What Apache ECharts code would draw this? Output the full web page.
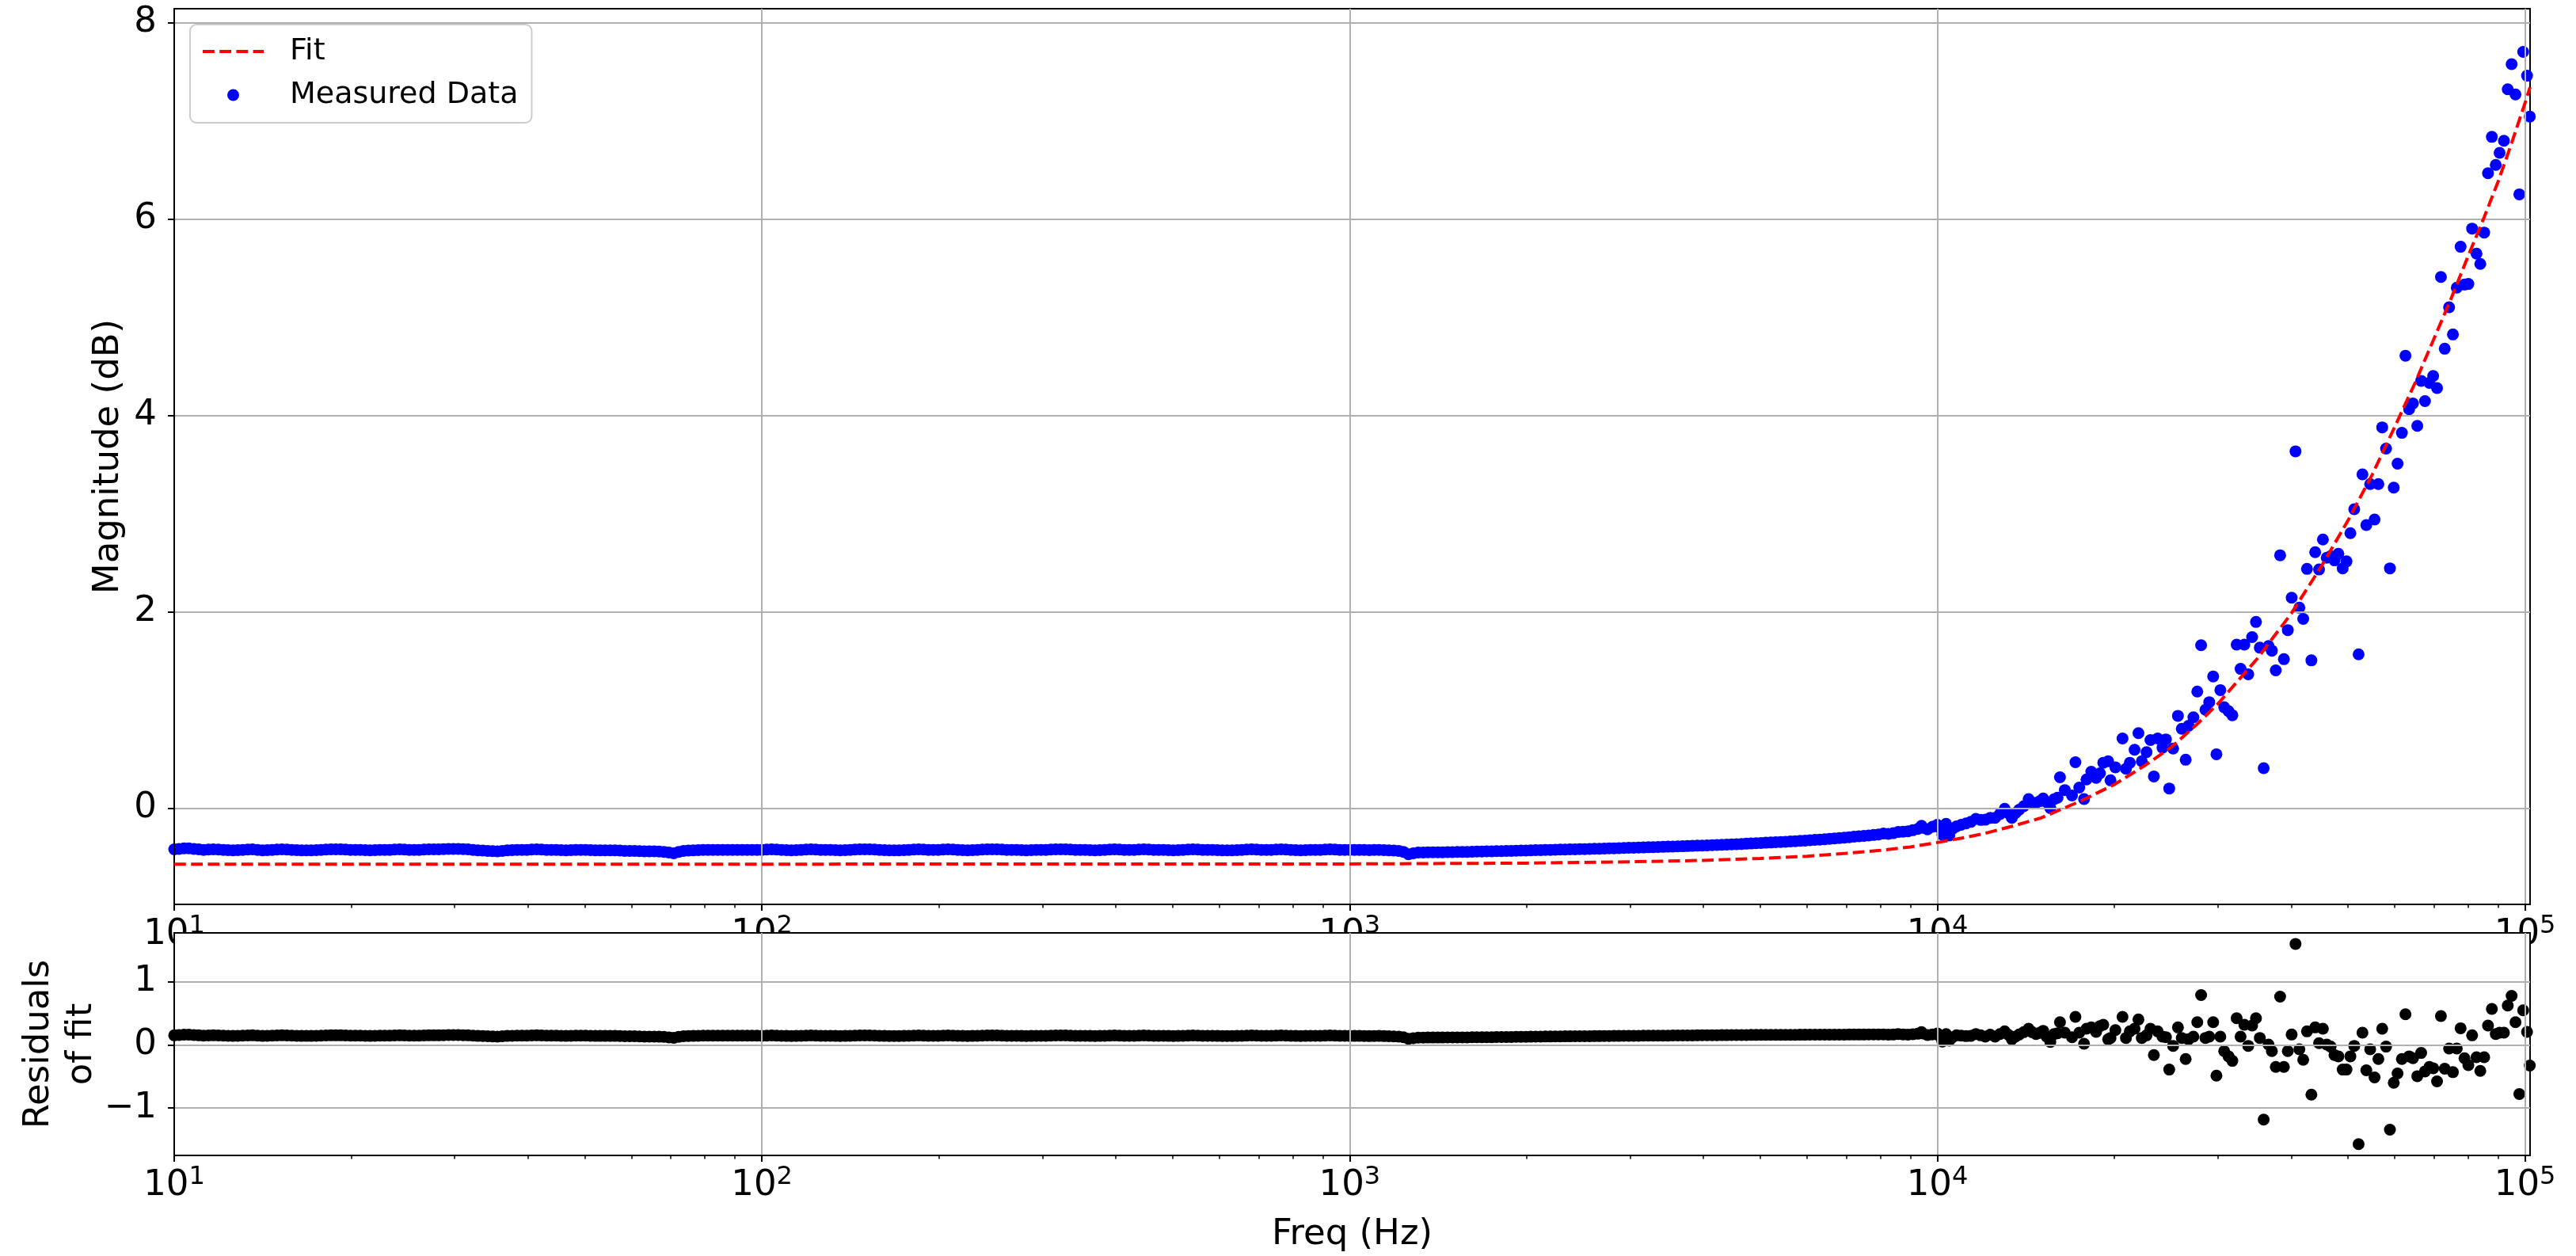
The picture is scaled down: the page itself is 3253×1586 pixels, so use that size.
<!DOCTYPE html>
<html><head><meta charset="utf-8">
<script src="https://cdn.jsdelivr.net/npm/echarts@6/dist/echarts.min.js"></script>
<style>html,body{margin:0;padding:0;background:#fff}#c{width:3253px;height:1586px}</style>
</head><body><div id="c"></div>
<script>
// ---------- data ----------
const freq = [
10,10.39,10.8,11.22,11.66,12.12,12.59,13.08,13.59,14.13,14.68,15.25,15.85,16.47,17.11,17.78,18.48,19.2,19.95,20.73,21.54,22.39,23.26,24.18,25.12,26.1,27.12,28.18,29.29,30.43,31.62,32.86,34.15,35.48,36.87,38.31,39.81,41.37,42.99,44.67,46.42,48.23,50.12,52.08,54.12,56.23,58.43,60.72,63.1,65.56,68.13,70.79,73.56,76.44,79.43,82.54,85.77,89.13,92.61,96.24,
100,103.9,108,112.2,116.6,121.2,125.9,130.8,135.9,141.3,146.8,152.5,158.5,164.7,171.1,177.8,184.8,192,199.5,207.3,215.4,223.9,232.6,241.8,251.2,261,271.2,281.8,292.9,304.3,316.2,328.6,341.5,354.8,368.7,383.1,398.1,413.7,429.9,446.7,464.2,482.3,501.2,520.8,541.2,562.3,584.3,607.2,631,655.6,681.3,707.9,735.6,764.4,794.3,825.4,857.7,891.3,926.1,962.4,
1000,1039,1080,1122,1166,1212,1259,1308,1359,1413,1468,1525,1585,1647,1711,1778,1848,1920,1995,2073,2154,2239,2326,2418,2512,2610,2712,2818,2929,3043,3162,3286,3415,3548,3687,3831,3981,4137,4299,4467,4642,4823,5012,5208,5412,5623,5843,6072,6310,6556,6813,7079,7356,7644,7943,8254,8577,8913,9261,9400,9624,10000,10100,10200,10350,
10480,10780,11190,11630,12070,12540,13020,13390,13780,14300,
14720,15140,15570,16020,16170,16480,16950,17180,17440,17770,
17940,18280,18630,18910,19160,19530,19710,20090,20660,20940,
21260,21660,21990,22280,22700,23050,23360,23710,24160,24490,
24810,25190,25670,26060,26460,26760,27270,27690,28110,28590,
29020,29470,29850,30310,30770,31300,31770,32310,32810,33300,
33810,34330,34850,35380,35920,36610,37090,37660,38310,38880,
39480,40080,40690,41310,41940,42560,43300,43950,44620,45300,
45990,46690,47400,48130,48950,49690,50450,51220,52100,52890,
53700,54520,55460,56300,57150,58020,58900,59790,60690,61730,
62600,63500,64470,65570,66570,67580,68740,69780,70840,71930,
73010,74270,75390,76540,77700,78890,80090,81280,82690,83930,
85220,86500,87820,89170,90520,92070,93460,94890,96340,97790,
99290,100800,101900
];
const magnitude = [
-0.42,-0.41,-0.415,-0.425,-0.42,-0.425,-0.43,-0.425,-0.42,-0.43,-0.425,-0.42,-0.425,-0.43,-0.43,-0.425,-0.42,-0.42,-0.425,-0.425,-0.43,-0.425,-0.425,-0.42,-0.425,-0.425,-0.42,-0.42,-0.415,-0.415,-0.42,-0.43,-0.435,-0.44,-0.43,-0.425,-0.425,-0.42,-0.425,-0.425,-0.43,-0.425,-0.425,-0.43,-0.43,-0.43,-0.435,-0.435,-0.44,-0.44,-0.445,-0.46,-0.435,-0.43,-0.425,-0.425,-0.425,-0.425,-0.425,-0.425,
-0.425,-0.42,-0.425,-0.43,-0.425,-0.42,-0.425,-0.425,-0.43,-0.425,-0.42,-0.42,-0.425,-0.43,-0.43,-0.425,-0.42,-0.425,-0.425,-0.42,-0.425,-0.43,-0.425,-0.42,-0.42,-0.425,-0.425,-0.43,-0.425,-0.425,-0.42,-0.42,-0.425,-0.425,-0.43,-0.425,-0.42,-0.425,-0.425,-0.42,-0.425,-0.425,-0.43,-0.425,-0.42,-0.425,-0.425,-0.43,-0.43,-0.425,-0.42,-0.425,-0.425,-0.42,-0.425,-0.43,-0.425,-0.425,-0.42,-0.425,
-0.425,-0.425,-0.428,-0.425,-0.43,-0.435,-0.47,-0.452,-0.45,-0.45,-0.448,-0.446,-0.445,-0.442,-0.44,-0.438,-0.436,-0.434,-0.431,-0.428,-0.426,-0.424,-0.421,-0.419,-0.417,-0.414,-0.412,-0.409,-0.406,-0.403,-0.4,-0.397,-0.394,-0.391,-0.388,-0.384,-0.381,-0.377,-0.373,-0.369,-0.365,-0.36,-0.355,-0.35,-0.345,-0.339,-0.333,-0.326,-0.32,-0.312,-0.305,-0.296,-0.287,-0.278,-0.268,-0.262,-0.243,-0.236,-0.212,-0.18,-0.215,-0.17,-0.2,-0.27,-0.16,
-0.278,-0.186,-0.155,-0.109,-0.118,-0.099,-0.007,-0.099,-0.016,0.092,
0.055,0.098,0.0,0.107,0.314,0.184,0.129,0.468,0.209,0.092,
0.292,0.370,0.308,0.354,0.462,0.478,0.283,0.416,0.709,0.401,
0.462,0.595,0.764,0.478,0.570,0.693,0.323,0.709,0.616,0.700,
0.200,0.607,0.940,0.808,0.493,0.838,0.925,1.187,1.659,1.002,
1.079,1.341,0.549,1.202,1.027,0.987,0.946,1.665,1.418,1.665,
1.363,1.742,1.896,1.634,0.407,1.650,1.603,1.403,2.575,1.517,
1.813,2.143,3.633,2.041,1.927,2.436,1.505,2.606,2.430,2.735,
2.550,2.566,2.523,2.590,2.442,2.513,2.800,3.044,1.566,3.398,
2.883,3.300,2.939,3.300,3.877,3.661,2.442,3.263,3.507,3.821,
4.607,4.062,4.120,3.892,4.351,4.145,4.330,4.401,4.277,5.408,
4.678,5.100,4.823,5.300,5.716,5.331,5.337,5.901,5.646,5.541,
5.861,6.465,6.835,6.549,6.672,6.795,7.319,7.575,7.267,6.250,
7.700,7.458,7.042
];
const residual = [
0.15,0.16,0.155,0.145,0.15,0.145,0.14,0.145,0.15,0.14,0.145,0.15,0.145,0.14,0.14,0.145,0.15,0.15,0.145,0.145,0.14,0.145,0.145,0.15,0.145,0.145,0.15,0.15,0.155,0.155,0.15,0.14,0.135,0.13,0.14,0.145,0.145,0.15,0.145,0.145,0.14,0.145,0.145,0.14,0.14,0.14,0.135,0.135,0.13,0.13,0.125,0.11,0.135,0.14,0.145,0.145,0.145,0.145,0.145,0.145,
0.143,0.148,0.143,0.138,0.143,0.148,0.143,0.143,0.138,0.143,0.148,0.148,0.143,0.138,0.138,0.143,0.148,0.143,0.143,0.148,0.143,0.138,0.143,0.148,0.148,0.143,0.143,0.138,0.143,0.143,0.148,0.148,0.143,0.143,0.138,0.143,0.148,0.143,0.143,0.148,0.143,0.143,0.138,0.143,0.148,0.143,0.143,0.138,0.138,0.143,0.148,0.143,0.143,0.148,0.143,0.138,0.143,0.143,0.148,0.143,
0.14,0.14,0.137,0.14,0.135,0.13,0.095,0.113,0.115,0.115,0.116,0.117,0.118,0.12,0.121,0.122,0.123,0.125,0.127,0.13,0.131,0.132,0.134,0.135,0.136,0.137,0.138,0.14,0.141,0.142,0.144,0.145,0.146,0.147,0.148,0.149,0.151,0.152,0.153,0.154,0.155,0.156,0.157,0.157,0.158,0.158,0.159,0.16,0.16,0.161,0.161,0.162,0.162,0.163,0.164,0.16,0.17,0.16,0.175,0.2,0.155,0.18,0.14,0.05,0.17,
0.067,0.150,0.137,0.171,0.129,0.129,0.212,0.087,0.162,0.254,
0.171,0.221,0.046,0.183,0.358,0.192,0.121,0.442,0.192,0.017,
0.254,0.275,0.204,0.296,0.317,0.087,0.108,0.233,0.442,0.108,
0.212,0.254,0.400,0.108,0.150,0.254,-0.163,0.212,0.129,0.121,
-0.392,-0.017,0.275,0.108,-0.225,0.087,0.129,0.358,0.787,0.108,
0.129,0.358,-0.488,0.129,-0.100,-0.183,-0.254,0.421,0.129,0.317,
-0.017,0.304,0.421,0.108,-1.184,0.004,-0.100,-0.350,0.762,-0.350,
-0.100,0.162,1.596,-0.071,-0.238,0.212,-0.788,0.275,0.025,0.254,
0.004,-0.029,-0.163,-0.183,-0.392,-0.392,-0.183,-0.017,-1.571,0.192,
-0.404,-0.071,-0.517,-0.225,0.254,-0.029,-1.342,-0.600,-0.454,-0.225,
0.483,-0.183,-0.213,-0.496,-0.129,-0.421,-0.350,-0.371,-0.579,0.454,
-0.379,-0.058,-0.433,-0.058,0.262,-0.213,-0.321,0.150,-0.196,-0.413,
-0.196,0.304,0.567,0.171,0.192,0.192,0.621,0.775,0.358,-0.779,
0.546,0.204,-0.329
];
// extra measured points lying between the ones above where the measurements form a dense band
const extraFreq = [
10.19,10.59,11.01,11.44,11.89,12.35,12.83,13.34,13.86,14.4,14.96,15.55,16.16,16.79,17.45,18.13,18.84,19.57,20.34,21.14,21.96,22.82,23.71,24.64,25.61,26.61,27.65,28.73,29.85,31.02,32.24,33.5,34.81,36.17,37.58,39.06,40.58,42.17,43.82,45.53,47.32,49.17,51.09,53.09,55.17,57.32,59.57,61.9,64.32,66.83,69.45,72.17,74.99,77.92,80.97,84.14,87.43,90.85,94.41,98.1,
101.9,105.9,110.1,114.4,118.9,123.5,128.3,133.4,138.6,144,149.6,155.5,161.6,167.9,174.5,181.3,188.4,195.7,203.4,211.4,219.6,228.2,237.1,246.4,256.1,266.1,276.5,287.3,298.5,310.2,322.4,335,348.1,361.7,375.8,390.6,405.8,421.7,438.2,455.3,473.2,491.7,510.9,530.9,551.7,573.2,595.7,619,643.2,668.3,694.5,721.7,749.9,779.2,809.7,841.4,874.3,908.5,944.1,981,
1019,1059,1101,1144,1189,1235,1283,1334,1386,1440,1496,1555,1616,1679,1745,1813,1884,1957,2034,2114,2196,2282,2371,2464,2561,2661,2765,2873,2985,3102,3224,3350,3481,3617,3758,3906,4058,4217,4382,4553,4732,4917,5109,5309,5517,5732,5957,6190,6432,6683,6945,7217,7499,7792,8097,8414,8743,9085,9441,9810,
10050,10280,10620,10980,11400,11850,12300,12780,13200,13580,14030,14500,14930,15350,15800
];
const extraMagnitude = [
-0.415,-0.41,-0.42,-0.422,-0.422,-0.428,-0.428,-0.422,-0.425,-0.428,-0.422,-0.422,-0.428,-0.43,-0.428,-0.422,-0.42,-0.422,-0.425,-0.428,-0.428,-0.425,-0.422,-0.422,-0.425,-0.422,-0.42,-0.418,-0.415,-0.418,-0.425,-0.432,-0.438,-0.435,-0.428,-0.425,-0.422,-0.422,-0.425,-0.428,-0.428,-0.425,-0.428,-0.43,-0.43,-0.432,-0.435,-0.438,-0.44,-0.442,-0.452,-0.445,-0.432,-0.428,-0.425,-0.425,-0.425,-0.425,-0.425,-0.425,
-0.422,-0.422,-0.428,-0.428,-0.422,-0.422,-0.425,-0.428,-0.428,-0.422,-0.42,-0.422,-0.428,-0.43,-0.428,-0.422,-0.422,-0.425,-0.422,-0.422,-0.428,-0.428,-0.422,-0.42,-0.422,-0.425,-0.428,-0.428,-0.425,-0.422,-0.42,-0.422,-0.425,-0.428,-0.428,-0.422,-0.422,-0.425,-0.422,-0.422,-0.425,-0.428,-0.428,-0.422,-0.422,-0.425,-0.428,-0.43,-0.428,-0.422,-0.422,-0.425,-0.422,-0.422,-0.428,-0.428,-0.425,-0.422,-0.422,-0.425,
-0.425,-0.426,-0.426,-0.428,-0.432,-0.445,-0.46,-0.451,-0.45,-0.449,-0.447,-0.445,-0.443,-0.441,-0.439,-0.437,-0.435,-0.432,-0.43,-0.427,-0.425,-0.422,-0.42,-0.418,-0.415,-0.413,-0.41,-0.407,-0.404,-0.401,-0.398,-0.395,-0.392,-0.389,-0.386,-0.382,-0.379,-0.375,-0.371,-0.367,-0.362,-0.357,-0.352,-0.347,-0.342,-0.336,-0.33,-0.323,-0.316,-0.308,-0.3,-0.291,-0.282,-0.273,-0.258,-0.255,-0.24,-0.225,-0.2,-0.19,
-0.19,-0.2,-0.21,-0.17,-0.14,-0.12,-0.1,-0.06,-0.05,-0.05,0.02,0.05,0.07,0.06,0.09
];
const extraResidual = [
0.155,0.16,0.15,0.148,0.148,0.142,0.142,0.148,0.145,0.142,0.148,0.148,0.142,0.14,0.142,0.148,0.15,0.148,0.145,0.142,0.142,0.145,0.148,0.148,0.145,0.148,0.15,0.152,0.155,0.152,0.145,0.138,0.132,0.135,0.142,0.145,0.148,0.148,0.145,0.142,0.142,0.145,0.142,0.14,0.14,0.138,0.135,0.132,0.13,0.128,0.118,0.125,0.138,0.142,0.145,0.145,0.145,0.145,0.145,0.145,
0.146,0.146,0.14,0.14,0.146,0.146,0.143,0.14,0.14,0.146,0.148,0.146,0.14,0.138,0.14,0.146,0.146,0.143,0.146,0.146,0.14,0.14,0.146,0.148,0.146,0.143,0.14,0.14,0.143,0.146,0.148,0.146,0.143,0.14,0.14,0.146,0.146,0.143,0.146,0.146,0.143,0.14,0.14,0.146,0.146,0.143,0.14,0.138,0.14,0.146,0.146,0.143,0.146,0.146,0.14,0.14,0.143,0.146,0.146,0.143,
0.14,0.139,0.139,0.137,0.133,0.12,0.104,0.114,0.115,0.115,0.116,0.118,0.119,0.12,0.121,0.122,0.124,0.126,0.128,0.13,0.131,0.133,0.134,0.135,0.136,0.137,0.139,0.14,0.141,0.143,0.144,0.145,0.146,0.147,0.148,0.15,0.151,0.152,0.153,0.154,0.155,0.156,0.157,0.157,0.158,0.158,0.159,0.16,0.16,0.161,0.161,0.162,0.162,0.163,0.165,0.162,0.165,0.168,0.18,0.165,
0.155,0.13,0.12,0.145,0.14,0.15,0.16,0.17,0.16,0.13,0.2,0.2,0.19,0.13,0.17
];
const fitFreq = [10,100,1000,2000,3000,4000,5000,6000,7000,8000,9000,10000,11000,12000,13500,15000,17500,20000,22500,25000,27500,30000,35000,40000,45000,50000,55000,60000,65000,70000,75000,80000,85000,90000,95000,100000,102000];
const fitDb = [-0.57,-0.57,-0.568,-0.56,-0.546,-0.532,-0.512,-0.49,-0.46,-0.43,-0.395,-0.35,-0.305,-0.26,-0.18,-0.10,0.07,0.24,0.43,0.62,0.84,1.06,1.52,1.98,2.46,2.93,3.40,3.88,4.33,4.78,5.20,5.62,6.00,6.38,6.78,7.18,7.34];
const xMajorTicks = [10,100,1000,10000,100000];
const xMinorTicks = [20,30,40,50,60,70,80,90,200,300,400,500,600,700,800,900,2000,3000,4000,5000,6000,7000,8000,9000,20000,30000,40000,50000,60000,70000,80000,90000];
const magTicks = [0,2,4,6,8];
const resTicks = [-1,0,1];

// ---------- chart ----------
const FF = 'DejaVu Sans';
const GRID = '#b0b0b0';
const powLabel = v => '{b|10}{s|' + Math.round(Math.log10(v)) + '}';
const numLabel = v => v < 0 ? '\u2212' + Math.abs(v) : String(v);
const xRich = {
  b: {fontSize: 45, fontFamily: FF, color: '#000', verticalAlign: 'middle'},
  s: {fontSize: 32, fontFamily: FF, color: '#000', verticalAlign: 'middle', padding: [0, 0, 20, 0]}
};

function majorX(gridIndex, z, extra) {
  return Object.assign({
    type: 'log', logBase: 10, min: 10, max: 102000, gridIndex, position: 'bottom', z,
    axisLine: {show: true, onZero: false, lineStyle: {color: '#000', width: 2}},
    axisTick: {show: true, customValues: xMajorTicks, length: 8, lineStyle: {color: '#000', width: 2}},
    axisLabel: {customValues: xMajorTicks, formatter: powLabel, margin: 12, color: '#000', fontFamily: FF, fontSize: 45, rich: xRich},
    splitLine: {show: true, lineStyle: {color: GRID, width: 2}},
    minorTick: {show: false}, minorSplitLine: {show: false}
  }, extra || {});
}
function minorX(gridIndex, z) {
  return {
    type: 'log', logBase: 10, min: 10, max: 102000, gridIndex, position: 'bottom', z,
    axisLine: {show: false, onZero: false},
    axisTick: {show: true, customValues: xMinorTicks, length: 4.5, lineStyle: {color: '#000', width: 1.5}},
    axisLabel: {show: false}, splitLine: {show: false}
  };
}
function yAx(gridIndex, min, max, ticks, name, nameGap, z) {
  return {
    type: 'value', gridIndex, min, max, z,
    axisLine: {show: true, onZero: false, lineStyle: {color: '#000', width: 2}},
    axisTick: {show: true, customValues: ticks, length: 8, lineStyle: {color: '#000', width: 2}},
    axisLabel: {customValues: ticks, formatter: numLabel, margin: 22, color: '#000', fontFamily: FF, fontSize: 45},
    splitLine: {show: true, lineStyle: {color: GRID, width: 2}},
    name, nameLocation: 'middle', nameGap, nameMoveOverlap: false,
    nameTextStyle: {color: '#000', fontFamily: FF, fontSize: 45, lineHeight: 54, align: 'center'}
  };
}

const allFreq = freq.concat(extraFreq);
const allMag = magnitude.concat(extraMagnitude);
const allRes = residual.concat(extraResidual);

const chart = echarts.init(document.getElementById('c'));
chart.setOption({
  animation: false,
  backgroundColor: '#fff',
  grid: [
    {left: 220, top: 11, width: 2975, height: 1131, show: true, borderColor: '#000', borderWidth: 2, backgroundColor: 'transparent', z: 0},
    {left: 220, top: 1178, width: 2975, height: 281, show: true, borderColor: '#000', borderWidth: 2, backgroundColor: '#fff', z: 4}
  ],
  xAxis: [
    majorX(0, 2),
    minorX(0, 2),
    majorX(1, 6, {name: 'Freq (Hz)', nameLocation: 'middle', nameGap: 78, nameMoveOverlap: false, nameTextStyle: {color: '#000', fontFamily: FF, fontSize: 45}}),
    minorX(1, 6)
  ],
  yAxis: [
    yAx(0, -0.98, 8.14, magTicks, 'Magnitude (dB)', 56, 2),
    yAx(1, -1.75, 1.77, resTicks, 'Residuals\nof fit', 90, 6)
  ],
  legend: {
    data: [
      {name: 'Fit', itemStyle: {opacity: 0}, lineStyle: {color: '#ff0000', width: 4, type: [14.8, 6.4], opacity: 1}},
      {name: 'Measured Data'}
    ],
    orient: 'vertical', left: 240, top: 31, z: 10,
    itemWidth: 77, itemHeight: 15, itemGap: 17, padding: [15, 17, 16, 14],
    backgroundColor: 'rgba(255,255,255,0.8)', borderColor: '#cccccc', borderWidth: 2, borderRadius: 8,
    textStyle: {color: '#000', fontFamily: FF, fontSize: 38, padding: [0, 0, 0, 28]},
    selectedMode: false
  },
  series: [
    {name: 'Measured Data', type: 'scatter', xAxisIndex: 0, yAxisIndex: 0,
     data: allFreq.map((f, i) => [f, allMag[i]]), symbolSize: 15,
     itemStyle: {color: '#0000ff', opacity: 1}, z: 1, silent: true},
    {name: 'Fit', type: 'line', xAxisIndex: 0, yAxisIndex: 0,
     data: fitFreq.map((f, i) => [f, fitDb[i]]), showSymbol: false, symbol: 'none',
     lineStyle: {color: '#ff0000', width: 4, type: [14.8, 6.4]}, itemStyle: {color: '#ff0000'}, z: 3, silent: true},
    {name: 'Residuals', type: 'scatter', xAxisIndex: 2, yAxisIndex: 1,
     data: allFreq.map((f, i) => [f, allRes[i]]), symbolSize: 15,
     itemStyle: {color: '#000000', opacity: 1}, z: 5, silent: true}
  ]
});
</script>
</body></html>
